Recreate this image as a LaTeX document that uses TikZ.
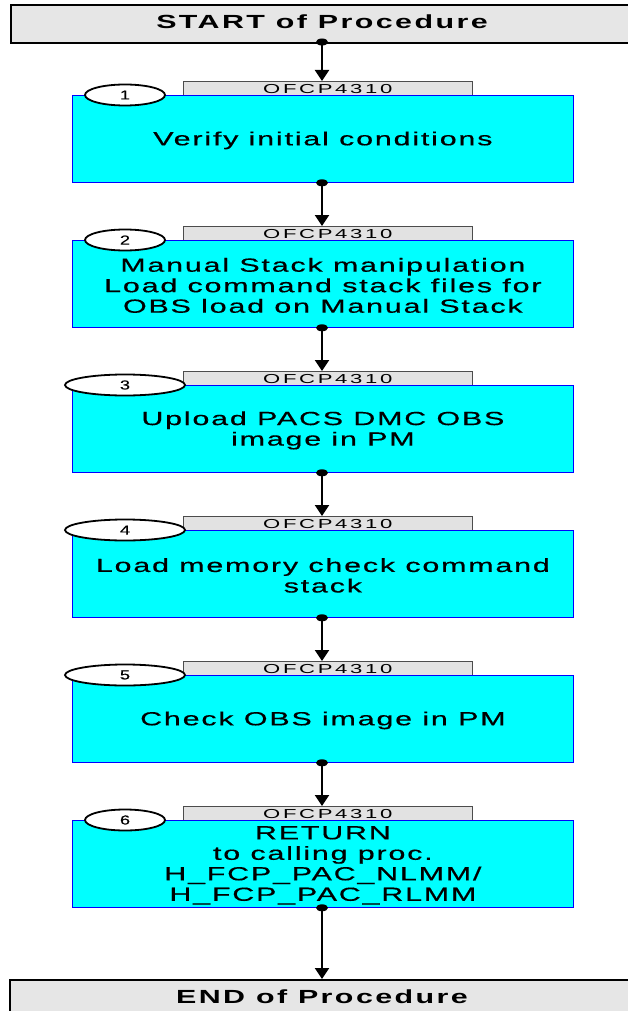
\documentclass[tikz,border=0pt]{standalone}
\usepackage{fontspec}
\setmainfont{Liberation Sans}[LetterSpace=6,FakeBold=0.4]
\newfontfamily\lblfont{Liberation Sans}[LetterSpace=12]
\newfontfamily\termfont{Liberation Sans}[LetterSpace=8]
\usetikzlibrary{arrows.meta,shapes.geometric}
\definecolor{aqua}{RGB}{0,255,255}
\definecolor{lblgray}{RGB}{226,226,226}
\definecolor{termgray}{RGB}{230,230,230}
\begin{document}
\begin{tikzpicture}[x=1pt,y=-1pt,
  stepbox/.style={draw=blue,fill=aqua,line width=0.8pt,minimum width=501pt,minimum height=87pt,anchor=north west,inner sep=0pt},
  steptxt/.style={xscale=1.6,transform shape,align=center,inner sep=0pt,font=\fontsize{19}{20.5}\selectfont},
  lbl/.style={draw=black!70,fill=lblgray,line width=0.6pt,minimum width=289pt,minimum height=15pt,anchor=north west,inner sep=0pt},
  lbltxt/.style={xscale=1.7,transform shape,inner sep=0pt,font=\lblfont\fontsize{13}{13}\selectfont},
  num/.style={draw=black,fill=white,line width=1.8pt,ellipse,inner sep=0pt},
  numtxt/.style={xscale=1.4,transform shape,inner sep=0pt,font=\fontsize{13}{13}\selectfont},
  term/.style={draw=black,fill=termgray,line width=2pt,minimum width=640pt,minimum height=38pt,anchor=north west,inner sep=0pt},
  termtxt/.style={xscale=1.6,transform shape,inner sep=0pt,font=\termfont\bfseries\fontsize{19}{19}\selectfont},
  conn/.style={line width=2.2pt,-{Triangle[length=11pt,width=14pt]}},
  dot/.style={ellipse,fill=black,inner sep=0pt,minimum width=12pt,minimum height=7pt}
]
\useasboundingbox (0,0) rectangle (628,1011);
\node[term] (start) at (10,4) {};
\node[termtxt] (st) at (322,22) {START of Procedure};
\node[term] (end) at (9,979) {};
\node[termtxt] (et) at (322,997) {END of Procedure};

\foreach \i/\yy/\w/\txt in {
  1/81/80pt/{Verify initial conditions},
  2/226/80pt/{Manual Stack manipulation\\Load command stack files for\\OBS load on Manual Stack},
  3/371/120pt/{Upload PACS DMC OBS\\image in PM},
  4/516/120pt/{Load memory check command\\stack},
  5/661/120pt/{Check OBS image in PM},
  6/806/80pt/{RETURN\\to calling proc.\\H\_FCP\_PAC\_NLMM/\\H\_FCP\_PAC\_RLMM}} {
  \node[lbl] (l\i) at (183,\yy) {};
  \node[lbltxt] (lt\i) at (l\i.center) {OFCP4310};
  \node[stepbox] (b\i) at (72,\yy+14) {};
  \node[steptxt] (t\i) at ([yshift=-1.5pt]b\i.center) {\txt};
  \node[num,minimum width=\w,minimum height=21pt] (n\i) at (125,\yy+14) {};
  \node[numtxt] (nt\i) at (n\i.center) {\i};
}
\coordinate (s0) at (322,42);
\node[dot] (d0) at (s0) {};
\draw[conn] (s0) -- (l1.north -| s0);
\foreach \i/\j in {1/2,2/3,3/4,4/5,5/6} {
  \coordinate (a\i) at (b\i.south -| s0);
  \node[dot] (d\i) at (a\i) {};
  \draw[conn] (a\i) -- (l\j.north -| s0);
}
\coordinate (a6) at (b6.south -| s0);
\node[dot] (d6) at (a6) {};
\draw[conn] (a6) -- (end.north -| s0);
\end{tikzpicture}
\end{document}
